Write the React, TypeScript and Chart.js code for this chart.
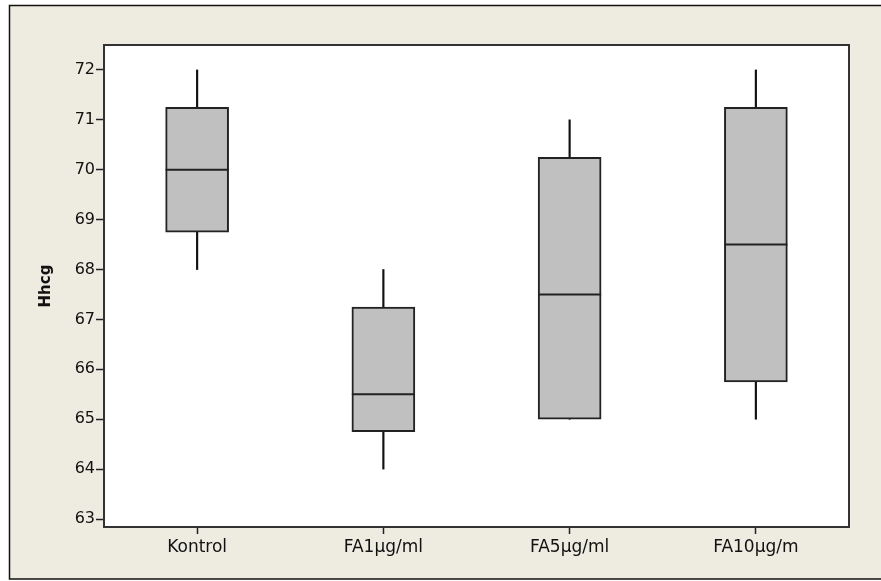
import React, { useEffect, useRef } from "react";
import { Chart, registerables } from "chart.js";

Chart.register(...registerables);

const categories = ["Kontrol", "FA1µg/ml", "FA5µg/ml", "FA10µg/m"];
const whiskerLow = [68, 64, 65, 65];
const q1 = [68.75, 64.75, 65, 65.75];
const median = [70, 65.5, 67.5, 68.5];
const q3 = [71.25, 67.25, 70.25, 71.25];
const whiskerHigh = [72, 68, 71, 72];
const yTicks = [63, 64, 65, 66, 67, 68, 69, 70, 71, 72];
const yTitle = "Hhcg";

const FRAME_BG = "#EEEBE1";
const BOX_FILL = "#C0C0C0";
const INK = "#222222";

const framePlugin = {
  id: "frame",
  beforeDraw(chart: any) {
    const { ctx, chartArea } = chart;
    ctx.save();
    ctx.fillStyle = "#ffffff";
    ctx.fillRect(0, 0, chart.width, chart.height);
    ctx.fillStyle = FRAME_BG;
    ctx.fillRect(9, 5, chart.width - 9, 574);
    ctx.strokeStyle = "#111";
    ctx.lineWidth = 1.5;
    ctx.beginPath();
    ctx.moveTo(chart.width + 2, 5.5);
    ctx.lineTo(9.5, 5.5);
    ctx.lineTo(9.5, 579);
    ctx.lineTo(chart.width + 2, 579);
    ctx.stroke();
    ctx.fillStyle = "#ffffff";
    ctx.fillRect(chartArea.left, chartArea.top, chartArea.right - chartArea.left, chartArea.bottom - chartArea.top);
    ctx.restore();
  },
  afterDatasetsDraw(chart: any) {
    const { ctx, chartArea } = chart;
    const yScale = chart.scales.y;
    const meta = chart.getDatasetMeta(2);
    ctx.save();
    ctx.strokeStyle = INK;
    ctx.lineWidth = 2;
    meta.data.forEach((el: any, i: number) => {
      const y = yScale.getPixelForValue(median[i]);
      const half = el.width / 2;
      ctx.beginPath();
      ctx.moveTo(el.x - half, y);
      ctx.lineTo(el.x + half, y);
      ctx.stroke();
    });
    ctx.strokeStyle = "#333";
    ctx.lineWidth = 2;
    ctx.strokeRect(chartArea.left, chartArea.top, chartArea.right - chartArea.left, chartArea.bottom - chartArea.top);
    ctx.restore();
  },
};

export default function App() {
  const ref = useRef<HTMLCanvasElement>(null);
  useEffect(() => {
    if (!ref.current) return;
    Chart.defaults.font.family = "'DejaVu Sans', sans-serif";
    Chart.defaults.color = "#111";
    const chart = new Chart(ref.current, {
      type: "bar",
      data: {
        labels: categories,
        datasets: [
          {
            label: "lower whisker",
            data: whiskerLow.map((v, i) => [v, q1[i]]),
            backgroundColor: "#111",
            barThickness: 1.5,
            grouped: false,
            order: 3,
          } as any,
          {
            label: "upper whisker",
            data: q3.map((v, i) => [v, whiskerHigh[i]]),
            backgroundColor: "#111",
            barThickness: 1.5,
            grouped: false,
            order: 2,
          } as any,
          {
            label: "box",
            data: q1.map((v, i) => [v, q3[i]]),
            backgroundColor: BOX_FILL,
            borderColor: INK,
            borderWidth: 2,
            borderSkipped: false,
            barThickness: 63,
            grouped: false,
            order: 1,
          } as any,
        ],
      },
      options: {
        animation: false,
        responsive: false,
        events: [],
        layout: { padding: { left: 0, top: 45, right: 32, bottom: 0 } },
        plugins: { legend: { display: false }, tooltip: { enabled: false } },
        scales: {
          x: {
            type: "category",
            offset: true,
            border: { display: false },
            grid: {
              display: true,
              offset: false,
              drawOnChartArea: false,
              drawTicks: true,
              tickLength: 7,
              tickWidth: 1.5,
              tickColor: "#222",
            },
            ticks: { font: { size: 17 }, padding: 3, maxRotation: 0, autoSkip: false },
            afterFit: (s: any) => {
              s.height = 54;
            },
          },
          y: {
            type: "linear",
            min: 62.84,
            max: 72.5,
            border: { display: false },
            grid: {
              display: true,
              drawOnChartArea: false,
              drawTicks: true,
              tickLength: 8,
              tickWidth: 1.5,
              tickColor: "#222",
            },
            ticks: { font: { size: 16 }, padding: 1, includeBounds: false },
            afterBuildTicks: (s: any) => {
              s.ticks = yTicks.map((v) => ({ value: v }));
            },
            title: {
              display: true,
              text: yTitle,
              font: { size: 15, weight: "bold" },
              padding: { top: 37, bottom: 0 },
            },
            afterFit: (s: any) => {
              s.width = 104;
            },
          },
        },
      },
      plugins: [framePlugin],
    });
    return () => chart.destroy();
  }, []);
  return (
    <div style={{ position: "absolute", left: 0, top: 0, width: 881, height: 581 }}>
      <canvas ref={ref} width={881} height={581} style={{ width: 881, height: 581, display: "block" }} />
    </div>
  );
}
